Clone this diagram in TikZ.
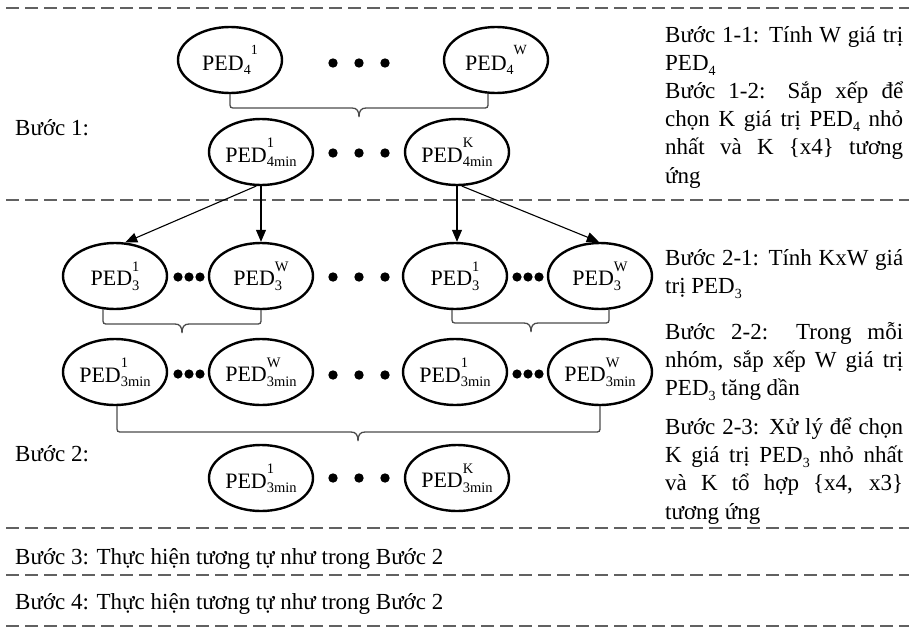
\documentclass[tikz,border=0pt]{standalone}
\usepackage{fontspec}
\setmainfont{Liberation Serif}
\usetikzlibrary{shapes.geometric,arrows.meta,calc}

\newcommand\sbx[1]{\raisebox{-0.2em}{\fontsize{14}{14}\selectfont #1}}
\newcommand\spx[1]{\raisebox{0.72em}{\fontsize{14}{14}\selectfont #1}}
% stacked: subscript counted in width
\newcommand\pstk[2]{PED\rlap{\raisebox{0.68em}{\fontsize{14.5}{14.5}\selectfont #1}}\raisebox{-0.2em}{\fontsize{14.5}{14.5}\selectfont #2}}
% stacked: superscript counted in width
\newcommand\pstkx[2]{PED\rlap{\raisebox{-0.2em}{\fontsize{14.5}{14.5}\selectfont #2}}\raisebox{0.68em}{\fontsize{14.5}{14.5}\selectfont #1}}
\newcommand\jl[1]{\makebox[\linewidth][s]{#1}}
\newcommand\mybrace[4]{%
  \draw[brc] (#1) -- ($(#1 |- 0,#3)+(0,-6)$) .. controls (#1 |- 0,#3) .. ($(#1 |- 0,#3)+(6,0)$)
    -- (#4-7,#3) .. controls (#4-2,#3) and (#4,#3+3) .. (#4,#3+9)
    .. controls (#4,#3+3) and (#4+2,#3) .. (#4+7,#3)
    -- ($(#2 |- 0,#3)+(-6,0)$) .. controls (#2 |- 0,#3) .. ($(#2 |- 0,#3)+(0,-6)$) -- (#2);}

\begin{document}
\begin{tikzpicture}[x=1pt,y=-1pt,
  ped/.style={ellipse, draw, line width=2.4pt, minimum width=104pt, minimum height=66pt,
    inner sep=0pt, font=\fontsize{22}{22}\selectfont},
  txt/.style={anchor=base west, inner sep=0pt, font=\fontsize{23}{28.4}\selectfont},
  sep/.style={draw=black!62, line width=1.6pt, dash pattern=on 13pt off 6pt},
  brc/.style={draw=black!70, line width=1.3pt},
  arr/.style={draw, line width=1.1pt, -{Triangle[length=12pt,width=10pt]}},
  bdot/.style={fill=black},
]
\useasboundingbox (0,0) rectangle (909,629);

% separators
\draw[sep] (6,8) -- (909,8);
\draw[sep] (6,200) -- (909,200);
\draw[sep] (6,528) -- (909,528);
\draw[sep] (6,575) -- (909,575);
\draw[sep] (6,626) -- (909,626);

% step 1
\node[ped] (a1) at (230,60) {PED\sbx{4}\spx{1}};
\node[ped] (a2) at (496,60) {PED\sbx{4}\spx{W}};
\node[ped] (b1) at (261,152) {\pstk{1}{4min}};
\node[ped] (b2) at (457,152) {\pstk{K}{4min}};
\foreach \x in {333,359,385} {\fill[bdot] (\x,63) circle (4.7); \fill[bdot] (\x,153) circle (4.7);}
\coordinate (bAr) at ($(a2.south)+(-8,-0.5)$);
\mybrace{a1.south}{bAr}{108}{359}

% step 2 rows
\node[ped] (c1) at (115,276) {\pstk{1}{3}};
\node[ped] (c2) at (261,276) {\pstkx{W}{3}};
\node[ped] (c3) at (455,276) {\pstk{1}{3}};
\node[ped] (c4) at (600,276) {\pstkx{W}{3}};
\node[ped] (d1) at (115,372) {\pstk{1}{3min}};
\node[ped] (d2) at (261,372) {\pstk{W}{3min}};
\node[ped] (d3) at (455,372) {\pstk{1}{3min}};
\node[ped] (d4) at (600,372) {\pstk{W}{3min}};
\node[ped] (e1) at (261,478) {\pstk{1}{3min}};
\node[ped] (e2) at (457,478) {\pstk{K}{3min}};

\foreach \x in {178,189,200,517,528,539} {\fill[bdot] (\x,277) circle (4.6); \fill[bdot] (\x,374) circle (4.6);}
\foreach \x in {333,359,385} {\fill[bdot] (\x,277) circle (4.7); \fill[bdot] (\x,375) circle (4.7); \fill[bdot] (\x,478) circle (4.7);}

% arrows
\draw[arr] (b1.-98) -- (c1.73);
\draw[arr] (b1.south) -- (c2.north);
\draw[arr] (b2.south) -- (b2.south |- c3.north);
\draw[arr] (b2.-82) -- (c4.92);

% braces
\coordinate (bC1l) at ($(c1.south)+(-12,-1)$);
\mybrace{bC1l}{c2.south}{324}{182}
\coordinate (bC2l) at ($(c3.south)+(-3,0)$);
\coordinate (bC2r) at ($(c4.south)+(9,-0.5)$);
\mybrace{bC2l}{bC2r}{323}{531}
\coordinate (bDl) at ($(d1.south)+(2,0)$);
\mybrace{bDl}{d4.south}{432}{358}

% left labels
\node[txt] (s1) at (15,135) {Bước 1:};
\node[txt] (s2) at (15,461) {Bước 2:};
\node[txt] (s3) at (15,564) {Bước 3: Thực hiện tương tự như trong Bước 2};
\node[txt] (s4) at (15,609) {Bước 4: Thực hiện tương tự như trong Bước 2};

% right column
\node[txt] (t11) at (665,42) {\parbox[t]{238pt}{\jl{Bước 1-1: Tính W giá trị}\\PED\sbx{4}}};
\node[txt] (t12) at (665,98) {\parbox[t]{238pt}{\jl{Bước 1-2: Sắp xếp để}\\\jl{chọn K giá trị PED\sbx{4} nhỏ}\\\jl{nhất và K \{x4\} tương}\\ứng}};
\node[txt] (t21) at (665,265) {\parbox[t]{238pt}{\jl{Bước 2-1: Tính KxW giá}\\trị PED\sbx{3}}};
\node[txt] (t22) at (665,339) {\parbox[t]{238pt}{\jl{Bước 2-2: Trong mỗi}\\\jl{nhóm, sắp xếp W giá trị}\\PED\sbx{3} tăng dần}};
\node[txt] (t23) at (665,434) {\parbox[t]{238pt}{\jl{Bước 2-3: Xử lý để chọn}\\\jl{K giá trị PED\sbx{3} nhỏ nhất}\\\jl{và K tổ hợp \{x4, x3\}}\\tương ứng}};
\end{tikzpicture}
\end{document}
